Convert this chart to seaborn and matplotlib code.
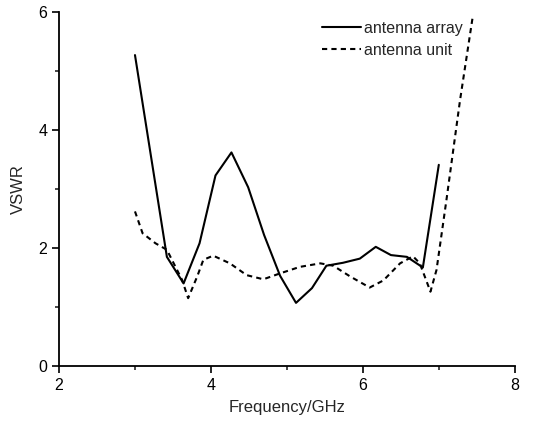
import matplotlib
matplotlib.use("Agg")
import matplotlib.pyplot as plt
import seaborn as sns
import pandas as pd
from matplotlib.ticker import MultipleLocator

# antenna array (solid)
array_freq = [3.00, 3.42, 3.64, 3.85, 4.06, 4.27, 4.49, 4.70, 4.91, 5.12,
              5.33, 5.52, 5.74, 5.96, 6.17, 6.37, 6.58, 6.79, 7.00]
array_vswr = [5.27, 1.85, 1.40, 2.08, 3.23, 3.62, 3.03, 2.22, 1.53, 1.07,
              1.32, 1.70, 1.75, 1.82, 2.02, 1.88, 1.85, 1.67, 3.41]

# antenna unit (dashed)
unit_freq = [3.00, 3.10, 3.27, 3.42, 3.51, 3.62, 3.70, 3.82, 3.90, 4.03,
             4.25, 4.47, 4.69, 4.91, 5.17, 5.44, 5.61, 5.83, 6.09, 6.27,
             6.49, 6.66, 6.75, 6.89, 6.97, 7.10, 7.28, 7.45]
unit_vswr = [2.62, 2.25, 2.08, 1.97, 1.74, 1.46, 1.15, 1.52, 1.80, 1.87,
             1.74, 1.54, 1.47, 1.57, 1.68, 1.74, 1.70, 1.52, 1.33, 1.45,
             1.74, 1.86, 1.74, 1.26, 1.63, 2.81, 4.51, 5.95]

sns.set_style("ticks")
plt.rcParams['font.family'] = ['Liberation Sans', 'DejaVu Sans']

df_a = pd.DataFrame({"f": array_freq, "v": array_vswr})
df_u = pd.DataFrame({"f": unit_freq, "v": unit_vswr})

fig = plt.figure(figsize=(5.43, 4.21), dpi=100)
ax = fig.add_axes([0.1087, 0.1306, 0.8393, 0.8409])

sns.lineplot(data=df_a, x="f", y="v", ax=ax, color="black", lw=1.5,
             label="antenna array", sort=False)
sns.lineplot(data=df_u, x="f", y="v", ax=ax, color="black", lw=1.5,
             linestyle=(0, (2.5, 2)), label="antenna unit", sort=False)

ax.set_xlim(2, 8)
ax.set_ylim(0, 6)
ax.xaxis.set_major_locator(MultipleLocator(2))
ax.xaxis.set_minor_locator(MultipleLocator(1))
ax.yaxis.set_major_locator(MultipleLocator(2))
ax.yaxis.set_minor_locator(MultipleLocator(1))
ax.tick_params(which="major", direction="out", length=5, width=1.2, labelsize=11.5, colors="black")
ax.tick_params(which="minor", direction="out", length=3, width=1.2)
for s in ["top", "right"]:
    ax.spines[s].set_visible(False)
for s in ["left", "bottom"]:
    ax.spines[s].set_linewidth(1.3)
    ax.spines[s].set_color("black")

ax.set_xlabel("Frequency/GHz", fontsize=12, labelpad=5)
ax.set_ylabel("VSWR", fontsize=12, labelpad=9)

leg = ax.legend(loc="upper right", bbox_to_anchor=(0.905, 1.0), frameon=False,
                fontsize=11.5, handlelength=2.4, handletextpad=0.2,
                labelspacing=0.45, borderaxespad=0.15)

fig.savefig("out.png", dpi=100)
